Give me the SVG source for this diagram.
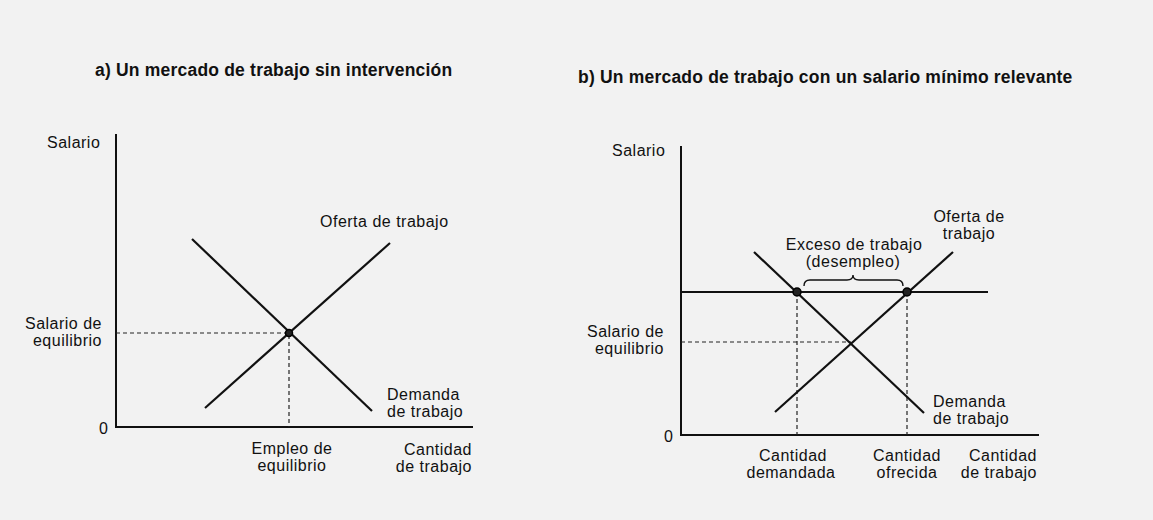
<svg xmlns="http://www.w3.org/2000/svg" width="1153" height="520" viewBox="0 0 1153 520">
<style>
text{font-family:"Liberation Sans",Arial,sans-serif;font-size:16px;letter-spacing:0.5px;fill:#111}
.title{font-weight:bold;font-size:17.5px;letter-spacing:0.2px}
.mid{text-anchor:middle}
.end{text-anchor:end}
.axis{stroke:#111;stroke-width:2;fill:none}
.curve{stroke:#111;stroke-width:2.2;fill:none}
.dash{stroke:#222;stroke-width:1.2;stroke-dasharray:4 3;fill:none}
.dot{fill:#222;stroke:#000;stroke-width:1.5}
</style>
<rect width="1153" height="520" fill="#f2f2f2"/>

<g id="panel-a">
  <text id="title-a" class="title" x="95" y="76">a) Un mercado de trabajo sin intervención</text>
  <g id="axes-a">
    <path class="axis" d="M116,134 V427 H473"/>
    <text x="47" y="148">Salario</text>
    <text x="99" y="434">0</text>
    <text class="end" x="472" y="455">Cantidad</text>
    <text class="end" x="472" y="472">de trabajo</text>
  </g>
  <g id="connectors-a">
    <path class="dash" d="M116,333 H289 V427"/>
  </g>
  <g id="demand-a">
    <line class="curve" x1="192" y1="239" x2="372" y2="411"/>
    <text x="387" y="400">Demanda</text>
    <text x="387" y="417">de trabajo</text>
  </g>
  <g id="supply-a">
    <line class="curve" x1="205" y1="408" x2="390" y2="243"/>
    <text x="320" y="227">Oferta de trabajo</text>
  </g>
  <g id="equilibrium-a">
    <circle class="dot" cx="289" cy="333" r="3.5"/>
    <text class="end" x="102" y="329">Salario de</text>
    <text class="end" x="102" y="346">equilibrio</text>
    <text class="mid" x="292" y="454">Empleo de</text>
    <text class="mid" x="292" y="471">equilibrio</text>
  </g>
</g>

<g id="panel-b">
  <text id="title-b" class="title" x="578" y="83">b) Un mercado de trabajo con un salario mínimo relevante</text>
  <g id="axes-b">
    <path class="axis" d="M681,146 V435 H1039"/>
    <text x="612" y="156">Salario</text>
    <text x="664" y="442">0</text>
    <text class="end" x="1037" y="461">Cantidad</text>
    <text class="end" x="1037" y="478">de trabajo</text>
  </g>
  <g id="connectors-b">
    <path class="dash" d="M681,342 H851"/>
    <path class="dash" d="M797,292 V435"/>
    <path class="dash" d="M907,292 V435"/>
  </g>
  <g id="min-wage">
    <line class="curve" x1="681" y1="292" x2="988" y2="292"/>
  </g>
  <g id="demand-b">
    <line class="curve" x1="754" y1="252" x2="924" y2="413"/>
    <text x="933" y="407">Demanda</text>
    <text x="933" y="424">de trabajo</text>
  </g>
  <g id="supply-b">
    <line class="curve" x1="775" y1="412" x2="953" y2="252"/>
    <text class="mid" x="969" y="222">Oferta de</text>
    <text class="mid" x="969" y="239">trabajo</text>
  </g>
  <g id="excess">
    <path d="M804,286 Q804,280 810,280 H847 Q853,280 853,275 Q853,280 859,280 H897 Q903,280 903,286" fill="none" stroke="#111" stroke-width="1.4"/>
    <text class="mid" x="854" y="250">Exceso de trabajo</text>
    <text class="mid" x="853" y="267">(desempleo)</text>
  </g>
  <g id="points-b">
    <circle class="dot" cx="797" cy="292" r="4"/>
    <circle class="dot" cx="907" cy="292" r="4"/>
    <text class="end" x="664" y="337">Salario de</text>
    <text class="end" x="664" y="354">equilibrio</text>
    <text class="mid" x="793" y="461">Cantidad</text>
    <text class="mid" x="791" y="478">demandada</text>
    <text class="mid" x="907" y="461">Cantidad</text>
    <text class="mid" x="907" y="478">ofrecida</text>
  </g>
</g>
</svg>
